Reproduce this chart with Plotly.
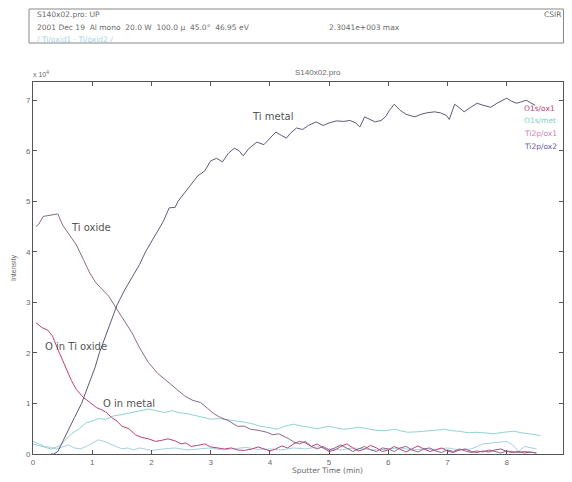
import plotly.graph_objects as go

# ---------------- data ----------------
t_ti_metal = [0.3, 0.35, 0.42, 0.5, 0.6, 0.7, 0.82, 0.95, 1.05, 1.12, 1.25, 1.42, 1.55, 1.7, 1.8, 1.9,
              2.0, 2.07, 2.2, 2.3, 2.4, 2.45, 2.55, 2.65, 2.78, 2.9, 3.0, 3.1, 3.2, 3.3, 3.4, 3.48,
              3.55, 3.65, 3.78, 3.9, 4.0, 4.1, 4.2, 4.28, 4.35, 4.45, 4.55, 4.65, 4.78, 4.9, 5.0,
              5.12, 5.25, 5.35, 5.45, 5.52, 5.6, 5.7, 5.78, 5.88, 5.95, 6.02, 6.1, 6.2, 6.3, 6.45,
              6.55, 6.65, 6.78, 6.88, 6.98, 7.03, 7.12, 7.2, 7.28, 7.38, 7.5, 7.6, 7.73, 7.85, 8.0,
              8.08, 8.17, 8.25, 8.33, 8.4, 8.48]
ti_metal = [0.0, 0.0, 0.05, 0.25, 0.5, 0.72, 1.0, 1.4, 1.72, 2.0, 2.4, 2.95, 3.25, 3.55, 3.75, 4.0,
            4.2, 4.34, 4.6, 4.87, 4.88, 5.0, 5.15, 5.3, 5.5, 5.6, 5.8, 5.85, 5.78, 5.95, 6.05, 6.0,
            5.9, 6.05, 6.17, 6.12, 6.25, 6.37, 6.3, 6.25, 6.35, 6.45, 6.42, 6.5, 6.57, 6.5, 6.55,
            6.59, 6.58, 6.6, 6.55, 6.47, 6.67, 6.62, 6.57, 6.6, 6.67, 6.8, 6.92, 6.8, 6.72, 6.67,
            6.72, 6.75, 6.77, 6.75, 6.7, 6.62, 6.92, 6.85, 6.77, 6.85, 6.94, 6.9, 6.86, 6.95, 7.04,
            6.98, 6.94, 6.97, 7.0, 6.95, 6.9]

t_ti_oxide = [0.05, 0.1, 0.17, 0.3, 0.42, 0.5, 0.6, 0.73, 0.85, 0.95, 1.06, 1.18, 1.28, 1.42, 1.55,
              1.67, 1.8, 1.95, 2.1, 2.28, 2.4, 2.57, 2.7, 2.83, 2.95, 3.05, 3.17, 3.3, 3.45, 3.57,
              3.67, 3.8, 3.95, 4.05, 4.15, 4.23, 4.32, 4.4, 4.5, 4.6, 4.7, 4.8, 4.9, 5.0, 5.1, 5.2,
              5.3, 5.4, 5.5, 5.6, 5.7, 5.8, 5.9, 6.0, 6.1, 6.2, 6.3, 6.4, 6.5, 6.6, 6.7, 6.8, 6.9,
              7.0, 7.1, 7.2, 7.3, 7.4, 7.5, 7.6, 7.7, 7.8, 7.9, 8.0, 8.1, 8.2, 8.3, 8.4, 8.5]
ti_oxide = [4.5, 4.55, 4.7, 4.72, 4.75, 4.53, 4.35, 4.14, 3.85, 3.6, 3.39, 3.25, 3.12, 2.86, 2.62,
            2.4, 2.1, 1.81, 1.6, 1.42, 1.3, 1.14, 1.06, 1.02, 0.9, 0.8, 0.72, 0.66, 0.55, 0.55,
            0.49, 0.47, 0.43, 0.38, 0.4, 0.36, 0.3, 0.24, 0.2, 0.25, 0.15, 0.1, 0.15, 0.08, 0.12, 0.18,
            0.12, 0.05, 0.1, 0.15, 0.08, 0.05, 0.12, 0.1, 0.05, 0.12, 0.15, 0.08, 0.04, 0.1, 0.12, 0.06, 0.03,
            0.08, 0.05, 0.1, 0.06, 0.03, 0.06, 0.04, 0.08, 0.05, 0.02, 0.06, 0.04, 0.03, 0.05, 0.03, 0.02]

t_o_ti_oxide = [0.05, 0.15, 0.25, 0.33, 0.42, 0.5, 0.56, 0.65, 0.73, 0.85, 0.95, 1.07, 1.15, 1.23, 1.33,
                1.42, 1.5, 1.62, 1.73, 1.83, 1.95, 2.07, 2.17, 2.28, 2.4, 2.5, 2.58, 2.67, 2.78, 2.9,
                3.0, 3.1, 3.23, 3.35, 3.45, 3.57, 3.7, 3.8, 3.9, 4.0, 4.1, 4.2, 4.3, 4.4, 4.5, 4.6,
                4.7, 4.8, 4.9, 5.0, 5.1, 5.2, 5.3, 5.4, 5.5, 5.6, 5.7, 5.8, 5.9, 6.0, 6.1, 6.2, 6.3,
                6.4, 6.5, 6.6, 6.7, 6.8, 6.9, 7.0, 7.1, 7.2, 7.3, 7.4, 7.5, 7.6, 7.7, 7.8, 7.9, 8.0,
                8.1, 8.2, 8.3, 8.4, 8.5]
o_ti_oxide = [2.6, 2.5, 2.45, 2.33, 2.07, 1.85, 1.68, 1.45, 1.28, 1.12, 1.03, 0.92, 0.88, 0.83, 0.72,
              0.65, 0.55, 0.5, 0.38, 0.33, 0.3, 0.25, 0.27, 0.3, 0.26, 0.2, 0.22, 0.15, 0.17, 0.2,
              0.14, 0.12, 0.1, 0.12, 0.08, 0.07, 0.1, 0.14, 0.1, 0.06, 0.1, 0.16, 0.12, 0.2, 0.25, 0.22,
              0.15, 0.2, 0.12, 0.05, 0.08, 0.15, 0.2, 0.12, 0.06, 0.1, 0.17, 0.12, 0.05, 0.08, 0.15, 0.1, 0.04,
              0.1, 0.16, 0.1, 0.05, 0.08, 0.12, 0.06, 0.03, 0.08, 0.1, 0.05, 0.03, 0.06, 0.04, 0.08, 0.1, 0.05,
              0.03, 0.05, 0.02, 0.04, 0.02]

t_o_metal = [0.0, 0.15, 0.3, 0.45, 0.55, 0.65, 0.78, 0.9, 1.0, 1.1, 1.23, 1.35, 1.5, 1.67, 1.8, 1.95,
             2.1, 2.23, 2.35, 2.45, 2.6, 2.78, 2.9, 3.0, 3.15, 3.37, 3.57, 3.7, 3.83, 4.0, 4.12, 4.25,
             4.4, 4.55, 4.67, 4.8, 5.0, 5.12, 5.23, 5.35, 5.5, 5.65, 5.78, 5.95, 6.12, 6.2, 6.33, 6.5,
             6.67, 6.8, 6.95, 7.08, 7.2, 7.35, 7.5, 7.65, 7.78, 7.95, 8.12, 8.25, 8.4, 8.5, 8.57]
o_metal = [0.2, 0.15, 0.1, 0.16, 0.28, 0.4, 0.5, 0.62, 0.65, 0.7, 0.69, 0.75, 0.78, 0.82, 0.86, 0.89,
           0.85, 0.82, 0.86, 0.82, 0.8, 0.75, 0.73, 0.69, 0.7, 0.67, 0.63, 0.6, 0.55, 0.52, 0.49, 0.55,
           0.59, 0.55, 0.53, 0.5, 0.55, 0.52, 0.49, 0.5, 0.53, 0.5, 0.47, 0.46, 0.49, 0.46, 0.43, 0.44,
           0.45, 0.47, 0.49, 0.46, 0.45, 0.42, 0.43, 0.41, 0.4, 0.43, 0.45, 0.42, 0.4, 0.38, 0.36]

t_resid = [0.0, 0.1, 0.2, 0.3, 0.4, 0.5, 0.6, 0.7, 0.8, 0.9, 1.0, 1.1, 1.2, 1.3, 1.4, 1.5, 1.6, 1.7,
           1.8, 1.9, 2.0, 2.2, 2.4, 2.6, 2.8, 3.0, 3.2, 3.4, 3.6, 3.8, 4.0, 4.2, 4.4, 4.6, 4.8, 5.0,
           5.2, 5.4, 5.6, 5.8, 6.0, 6.2, 6.4, 6.6, 6.8, 7.0, 7.2, 7.4, 7.6, 7.8, 8.0, 8.1, 8.2, 8.3,
           8.4, 8.5]
resid = [0.25, 0.2, 0.15, 0.13, 0.1, 0.14, 0.18, 0.12, 0.1, 0.15, 0.22, 0.28, 0.25, 0.2, 0.15, 0.1,
         0.12, 0.08, 0.12, 0.09, 0.07, 0.1, 0.12, 0.08, 0.1, 0.12, 0.08, 0.1, 0.13, 0.09, 0.1, 0.08,
         0.12, 0.1, 0.14, 0.1, 0.08, 0.12, 0.1, 0.08, 0.1, 0.12, 0.08, 0.1, 0.09, 0.12, 0.08, 0.1,
         0.2, 0.22, 0.25, 0.18, 0.05, 0.15, 0.12, 0.1]

legend_labels = ["O1s/ox1", "O1s/met", "Ti2p/ox1", "Ti2p/ox2"]
legend_colors = ["#c0407a", "#7fcfd0", "#d080b8", "#6a5aa8"]

# ---------------- figure ----------------
# the page body adds an 8 px margin on every side; work in page pixels and convert
OFF = 8
W, H = 572 - 2 * OFF, 482 - 2 * OFF
PL, PR, PT, PB = 33, 563, 82, 454          # plot area in page pixels
L, T = PL - OFF, PT - OFF
R = (OFF + W) - PR
B = (OFF + H) - PB
PW, PH = PR - PL, PB - PT

def px(xp):
    return (xp - PL) / PW

def py(yp):
    return (PB - yp) / PH

fig = go.Figure()
series = [
    (t_resid, resid, "#a6cfe2"),
    (t_o_metal, o_metal, "#8fd3d3"),
    (t_o_ti_oxide, o_ti_oxide, "#c0407a"),
    (t_ti_oxide, ti_oxide, "#8a6a88"),
    (t_ti_metal, ti_metal, "#625878"),
]
for xs, ys, c in series:
    fig.add_trace(go.Scatter(x=xs, y=ys, mode="lines", line=dict(color=c, width=1),
                             showlegend=False, hoverinfo="skip"))

FONT = "Liberation Sans, Arial, sans-serif"
WIDE = "DejaVu Sans, Verdana, sans-serif"
GRAY = "#6a6a6a"
ann = []

def text(x, y, s, size=8, color=GRAY, xanchor="left", xref="paper", yref="paper",
         family=WIDE, **kw):
    ann.append(dict(x=x, y=y, text=s, xref=xref, yref=yref, showarrow=False,
                    xanchor=xanchor, yanchor="middle",
                    font=dict(family=family, size=size, color=color), **kw))

# curve labels (data coordinates)
text(4.05, 6.67, "Ti metal", size=10, color="#555", xanchor="center", xref="x", yref="y")
text(0.98, 4.48, "Ti oxide", size=10, color="#555", xanchor="center", xref="x", yref="y")
text(0.72, 2.13, "O in Ti oxide", size=10, color="#555", xanchor="center", xref="x", yref="y")
text(1.62, 1.0, "O in metal", size=10, color="#555", xanchor="center", xref="x", yref="y")

# legend-like colored text
for i, (lab, col) in enumerate(zip(legend_labels, legend_colors)):
    text(px(522), py(108 + 12.7 * i), lab, size=7.5, color=col)

# titles and header
text(px(318), py(72), "S140x02.pro", size=8, xanchor="center", family=FONT)
text(px(31), py(74), "x 10<sup>4</sup>", size=7, family=FONT)
text(px(35), py(15), "S140x02.pro: UP", size=7.5)
text(px(563), py(15), "CSIR", size=7.5, xanchor="right")
text(px(35), py(28), "2001 Dec 19  Al mono  20.0 W  100.0 µ  45.0°  46.95 eV", size=7.5)
text(px(327), py(28), "2.3041e+003 max", size=7.5)
text(px(35), py(39), "/ Ti/oxid1 · Ti/oxid2 /", size=7.5, color="#9fd6e2")
text(px(290), py(470), "Sputter Time (min)", size=7.5)
text(px(14), py(268), "Intensity", size=7, family=FONT, xanchor="center", textangle=-90)

fig.update_layout(
    width=W, height=H,
    margin=dict(l=L, r=R, t=T, b=B, pad=0),
    paper_bgcolor="white", plot_bgcolor="white",
    annotations=ann,
    shapes=[dict(type="rect", xref="paper", yref="paper",
                 x0=px(29), x1=px(563.5), y0=py(43), y1=py(OFF + 1),
                 line=dict(color="#888", width=1))],
    xaxis=dict(range=[0, 8.95], tickvals=[0, 1, 2, 3, 4, 5, 6, 7, 8],
               ticks="inside", ticklen=4, tickcolor="#555", showline=True, linecolor="#555",
               linewidth=1, mirror="ticks", showgrid=False, zeroline=False,
               tickfont=dict(family=FONT, size=8, color=GRAY)),
    yaxis=dict(range=[0, 7.36], tickvals=[0, 1, 2, 3, 4, 5, 6, 7],
               ticks="inside", ticklen=4, tickcolor="#555", showline=True, linecolor="#555",
               linewidth=1, mirror="ticks", showgrid=False, zeroline=False,
               tickfont=dict(family=FONT, size=8, color=GRAY)),
)

fig.write_html("out.html")
